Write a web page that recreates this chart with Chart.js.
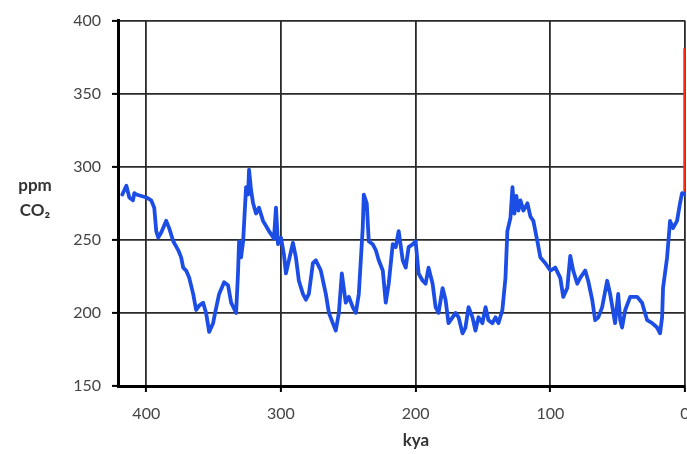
<!DOCTYPE html>
<html>
<head>
<meta charset="utf-8">
<script src="https://cdn.jsdelivr.net/npm/chart.js@4/dist/chart.umd.min.js"></script>
<style>
  html, body { margin: 0; padding: 0; background: #fff; }
  #wrap { width: 687px; height: 454px; position: relative; }
</style>
</head>
<body>
<div id="wrap"><canvas id="c" width="687" height="454"></canvas></div>
<script>
// Age (thousand years ago) and CO2 concentration (ppm)
const kya = [417.8, 414.8, 412.6, 409.9, 408.9, 407.4, 400, 396.3, 394.1, 392.6, 391.1, 388.9, 385.2, 383, 380, 376.3, 374.1, 372.6, 370.4, 368.1, 365.2, 363, 360.7, 357.8, 355.6, 353.3, 350.4, 348.9, 345.9, 342.2, 339.3, 337, 333.3, 331.9, 331.1, 329.6, 328.1, 325.9, 324.4, 323.7, 322.2, 320.7, 318.5, 316.3, 313.3, 308.9, 305.2, 303.7, 302.2, 300, 297.8, 296.3, 294.1, 291.1, 288.9, 286.7, 283.7, 281.5, 279.3, 276.3, 274.1, 270.4, 266.7, 264.4, 261.5, 259.3, 257, 254.8, 251.9, 249.6, 246.7, 244.4, 242.2, 239.3, 238.5, 236.3, 234.8, 231.9, 229.6, 227.4, 224.4, 222.2, 220, 217, 214.8, 212.6, 209.6, 207.4, 205.2, 202.2, 200, 197.8, 194.8, 192.6, 190.4, 187.4, 185.2, 183, 180, 177.8, 175.6, 172.6, 170.4, 168.1, 165.2, 163, 160.7, 157.8, 155.6, 153.3, 150.4, 148.1, 145.9, 143, 140.7, 138.5, 135.6, 133.3, 131.9, 129.6, 128.1, 126.7, 125.2, 123.7, 122.2, 120, 117, 114.8, 112.6, 109.6, 107.4, 103.7, 100, 96.3, 92.6, 90.4, 87.4, 85.2, 83, 80, 77.8, 74.1, 71.9, 68.9, 66.7, 64.4, 61.5, 57.8, 55.6, 51.9, 49.6, 48.1, 46.7, 44.4, 40.7, 35.6, 31.9, 28.1, 24.4, 20.7, 18.5, 17, 16.3, 13.3, 11.1, 8.9, 5.9, 3.7, 2.2, 0];
const co2 = [281, 287, 279, 277, 282, 281, 279, 277, 272, 256, 251.5, 255, 263, 258, 249, 243, 238, 231, 229, 224, 213, 202, 205, 207, 200, 187, 193, 200, 213, 221, 219, 207, 200, 227, 249, 238, 249, 286, 281, 298, 284, 275, 268, 272, 263, 256, 251, 272, 247, 251.5, 240, 227, 236, 248, 238, 222, 213, 209, 213, 234, 236, 229, 213, 200, 193, 188, 200, 227, 207, 211, 204, 200, 213, 258, 281, 275, 249, 247, 243, 236, 229, 207, 220, 247, 245, 256, 236, 231, 245, 247, 249, 227, 222, 220, 231, 220, 204, 200, 217, 209, 193, 197, 200, 197, 186, 190, 204, 197, 188, 197, 193, 204, 195, 193, 197, 193, 202, 224, 256, 265, 286, 268, 280, 270, 277, 270, 275, 266, 263, 249, 238, 234, 229, 231, 224, 211, 217, 239, 229, 220, 224, 229, 222, 209, 195, 197, 204, 222, 213, 193, 213, 195, 190, 202, 211, 211, 207, 195, 193, 190, 186, 197, 217, 238, 263, 258, 263, 275, 282, 281];
// Modern rise (red bar at 0 kya)
const modernKya = [0, 0];
const modernCo2 = [283, 381];

const xTicks = [400, 300, 200, 100, 0];

const blueData = kya.map((k, i) => ({ x: k, y: co2[i] }));
const redData = modernKya.map((k, i) => ({ x: k, y: modernCo2[i] }));

const FONT = "Lato, 'Open Sans', sans-serif";

const titlePlugin = {
  id: 'titles',
  afterDraw(chart) {
    const ctx = chart.ctx;
    ctx.save();
    ctx.fillStyle = '#333';
    ctx.textAlign = 'center';
    ctx.textBaseline = 'middle';
    ctx.font = "bold 17px " + FONT;
    ctx.fillText('ppm', 35, 186);
    ctx.fillText('CO₂', 35, 211);
    ctx.fillText('kya', 416, 441);
    ctx.restore();
  }
};

new Chart(document.getElementById('c'), {
  type: 'scatter',
  data: {
    datasets: [
      {
        data: blueData,
        showLine: true,
        borderColor: '#1c4ee6',
        borderWidth: 3.8,
        pointRadius: 0,
        tension: 0,
        borderJoinStyle: 'round',
        borderCapStyle: 'round',
        order: 2
      },
      {
        data: redData,
        showLine: true,
        borderColor: '#ff2a1a',
        borderWidth: 3.5,
        pointRadius: 0,
        order: 1
      }
    ]
  },
  options: {
    responsive: false,
    animation: false,
    events: [],
    plugins: { legend: { display: false }, tooltip: { enabled: false } },
    layout: { padding: { top: 19, right: 2, left: 0, bottom: 0 } },
    scales: {
      x: {
        type: 'linear',
        reverse: true,
        min: 0,
        max: 421,
        afterBuildTicks(scale) { scale.ticks = xTicks.map(v => ({ value: v })); },
        afterFit(scale) { scale.height = 68; scale.paddingLeft = 0; scale.paddingRight = 0; },
        ticks: {
          color: '#444',
          font: { family: FONT, size: 16 },
          padding: 12,
          maxRotation: 0,
          autoSkip: false
        },
        grid: { color: '#2a2a2a', lineWidth: 1.8, tickLength: 6, tickColor: '#000', tickWidth: 2 },
        border: { color: '#000', width: 3 }
      },
      y: {
        min: 150,
        max: 400,
        ticks: {
          stepSize: 50,
          color: '#444',
          font: { family: FONT, size: 16 },
          padding: 11
        },
        afterFit(scale) { scale.width = 118; },
        grid: { color: '#2a2a2a', lineWidth: 1.8, tickLength: 6, tickColor: '#000', tickWidth: 2 },
        border: { color: '#000', width: 3 }
      }
    }
  },
  plugins: [titlePlugin]
});
</script>
</body>
</html>
